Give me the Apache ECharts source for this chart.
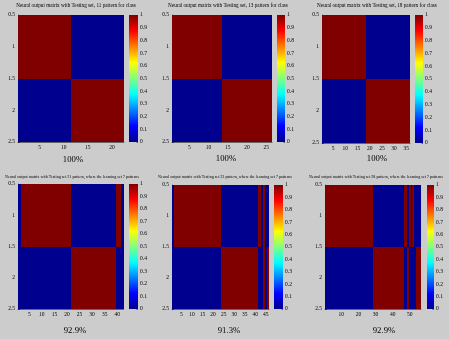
<!DOCTYPE html>
<html>
<head>
<meta charset="utf-8">
<script src="https://cdn.jsdelivr.net/npm/echarts@6/dist/echarts.min.js"></script>
<style>
html, body { margin: 0; padding: 0; background: #cccccc; }
#chart { width: 449px; height: 339px; }
</style>
</head>
<body>
<div id="chart"></div>
<script>
// Titres et scores de chaque panneau
const titles = [
    'Neural output matrix with Testing set, 11 pattern for class',
    'Neural output matrix with Testing set, 13 pattern for class',
    'Neural output matrix with Testing set, 18 pattern for class',
    'Neural output matrix with Testing set 21 pattern, where the learning set 7 patterns',
    'Neural output matrix with Testing set 23 pattern, where the learning set 7 patterns',
    'Neural output matrix with Testing set 28 pattern, where the learning set 7 patterns'
];
const scores = ['100%', '100%', '100%', '92.9%', '91.3%', '92.9%'];

// Graduations de l'axe x
const xTicks1 = [5, 10, 15, 20];
const xTicks2 = [5, 10, 15, 20, 25];
const xTicks3 = [5, 10, 15, 20, 25, 30, 35];
const xTicks4 = [5, 10, 15, 20, 25, 30, 35, 40];
const xTicks5 = [5, 10, 15, 20, 25, 30, 35, 40, 45];
const xTicks6 = [10, 20, 30, 40, 50];

// Sorties du réseau : ligne 1 (classe 1) et ligne 2 (classe 2)
const p1Row1 = [1,1,1,1,1,1,1,1,1,1,1, 0,0,0,0,0,0,0,0,0,0,0];
const p1Row2 = [0,0,0,0,0,0,0,0,0,0,0, 1,1,1,1,1,1,1,1,1,1,1];

const p2Row1 = [1,1,1,1,1,1,1,1,1,1,1,1,1, 0,0,0,0,0,0,0,0,0,0,0,0,0];
const p2Row2 = [0,0,0,0,0,0,0,0,0,0,0,0,0, 1,1,1,1,1,1,1,1,1,1,1,1,1];

const p3Row1 = [1,1,1,1,1,1,1,1,1,1,1,1,1,1,1,1,1,1, 0,0,0,0,0,0,0,0,0,0,0,0,0,0,0,0,0,0];
const p3Row2 = [0,0,0,0,0,0,0,0,0,0,0,0,0,0,0,0,0,0, 1,1,1,1,1,1,1,1,1,1,1,1,1,1,1,1,1,1];

const p4Row1 = [0,1,1,1,1,1,1,1,1,1,1,1,1,1,1,1,1,1,1,1,1, 0,0,0,0,0,0,0,0,0,0,0,0,0,0,0,0,0,0,1,1,0];
const p4Row2 = [0,0,0,0,0,0,0,0,0,0,0,0,0,0,0,0,0,0,0,0,0, 1,1,1,1,1,1,1,1,1,1,1,1,1,1,1,1,1,1,0,0,0];

const p5Row1 = [0,1,1,1,1,1,1,1,1,1,1,1,1,1,1,1,1,1,1,1,1,1,1, 0,0,0,0,0,0,0,0,0,0,0,0,0,0,0,0,0,0,1,0,1,0,0];
const p5Row2 = [0,0,0,0,0,0,0,0,0,0,0,0,0,0,0,0,0,0,0,0,0,0,0, 1,1,1,1,1,1,1,1,1,1,1,1,1,1,1,1,1,1,0,0,1,0,1];

const p6Row1 = [1,1,1,1,1,1,1,1,1,1,1,1,1,1,1,1,1,1,1,1,1,1,1,1,1,1,1,1, 0,0,0,0,0,0,0,0,0,0,0,0,0,0,0,0,0,0,1,1,0,1,0,1,0,0,0,0];
const p6Row2 = [0,0,0,0,0,0,0,0,0,0,0,0,0,0,0,0,0,0,0,0,0,0,0,0,0,0,0,0, 1,1,1,1,1,1,1,1,1,1,1,1,1,1,1,1,1,1,0,0,1,0,0,0,0,1,1,1];

const yTickLabels = [0.5, 1, 1.5, 2, 2.5];

const rows = [
    [p1Row1, p1Row2], [p2Row1, p2Row2], [p3Row1, p3Row2],
    [p4Row1, p4Row2], [p5Row1, p5Row2], [p6Row1, p6Row2]
];
const xTicks = [xTicks1, xTicks2, xTicks3, xTicks4, xTicks5, xTicks6];

// Palette "jet" (MATLAB)
const jet = ['#00008f', '#0000ff', '#0080ff', '#00ffff', '#80ff80', '#ffff00', '#ff8000', '#ff0000', '#800000'];

// Position des axes (zones de tracé) et des barres de couleur
const plotBoxes = [
    { left: 18, top: 15, width: 106, height: 127 },
    { left: 172, top: 15, width: 100, height: 127 },
    { left: 322, top: 15, width: 88, height: 128 },
    { left: 18, top: 184, width: 105.5, height: 125 },
    { left: 172, top: 185, width: 97, height: 124 },
    { left: 325, top: 185, width: 96, height: 124 }
];
const barBoxes = [
    { left: 129, top: 15, width: 9, height: 127 },
    { left: 277, top: 15, width: 8, height: 127 },
    { left: 415, top: 15, width: 8, height: 128 },
    { left: 129, top: 184, width: 9, height: 125 },
    { left: 274, top: 185, width: 9, height: 124 },
    { left: 427, top: 185, width: 7, height: 124 }
];
const titlePos = [[76, 6], [228, 6], [377, 6], [72, 177], [225, 177], [376, 177]];
const scorePos = [[73, 160], [226, 159], [377, 159], [75, 331], [229, 331], [384, 331]];

const serif = 'Liberation Serif';
const blackLine = { color: '#000', width: 0.5 };

// Une cellule par valeur, bords arrondis au pixel pour éviter les coutures
function renderCell(params, api) {
    const x = api.value(0);
    const y = api.value(1);
    const p0 = api.coord([x - 0.5, y - 0.5]);
    const p1 = api.coord([x + 0.5, y + 0.5]);
    const x0 = Math.round(Math.min(p0[0], p1[0]));
    const x1 = Math.round(Math.max(p0[0], p1[0]));
    const y0 = Math.round(Math.min(p0[1], p1[1]));
    const y1 = Math.round(Math.max(p0[1], p1[1]));
    return {
        type: 'rect',
        shape: { x: x0, y: y0, width: x1 - x0, height: y1 - y0 },
        style: { fill: api.visual('color') }
    };
}

const chart = echarts.init(document.getElementById('chart'), null, { renderer: 'canvas' });

const grid = [];
const xAxis = [];
const yAxis = [];
const series = [];
const graphic = [];

// Panneaux de la matrice
rows.forEach((pair, i) => {
    const n = pair[0].length;
    const data = [];
    pair.forEach((row, r) => {
        row.forEach((v, c) => data.push([c + 1, r + 1, v]));
    });
    grid.push(plotBoxes[i]);
    xAxis.push({
        type: 'value', gridIndex: i, min: 0.5, max: n + 0.5,
        axisLine: { show: true, onZero: false, lineStyle: blackLine },
        axisTick: { show: true, inside: true, length: 2, customValues: xTicks[i], lineStyle: blackLine },
        axisLabel: { customValues: xTicks[i], fontSize: 5.5, fontFamily: serif, color: '#000', margin: 3 },
        splitLine: { show: false }
    });
    yAxis.push({
        type: 'value', gridIndex: i, min: 0.5, max: 2.5, interval: 0.5, inverse: true,
        axisLine: { show: true, onZero: false, lineStyle: blackLine },
        axisTick: { show: true, inside: true, length: 2, lineStyle: blackLine },
        axisLabel: {
            fontSize: 5.5, fontFamily: serif, color: '#000', margin: 3,
            formatter: v => String(yTickLabels.find(t => Math.abs(t - v) < 1e-6) ?? v)
        },
        splitLine: { show: false }
    });
    series.push({
        type: 'custom', xAxisIndex: i, yAxisIndex: i,
        renderItem: renderCell, clip: true, silent: true,
        encode: { x: 0, y: 1 },
        data: data
    });
    graphic.push({
        type: 'text', x: titlePos[i][0], y: titlePos[i][1],
        style: {
            text: titles[i], align: 'center', verticalAlign: 'middle',
            fontSize: i < 3 ? 5.2 : 4.1, fontFamily: serif, fill: '#000'
        }
    });
    graphic.push({
        type: 'text', x: scorePos[i][0], y: scorePos[i][1],
        style: {
            text: scores[i], align: 'center', verticalAlign: 'middle',
            fontSize: 8.7, fontFamily: serif, fill: '#000'
        }
    });
});

// Barres de couleur
barBoxes.forEach((box, i) => {
    const g = 6 + i;
    grid.push(box);
    xAxis.push({ type: 'category', gridIndex: g, data: [''], show: false });
    yAxis.push({
        type: 'value', gridIndex: g, min: 0, max: 1, interval: 0.1, position: 'right',
        axisLine: { show: false },
        axisTick: { show: true, inside: true, length: 1.5, lineStyle: blackLine },
        axisLabel: { fontSize: 5.5, fontFamily: serif, color: '#000', margin: 2 },
        splitLine: { show: false }
    });
    series.push({
        type: 'bar', xAxisIndex: g, yAxisIndex: g, barWidth: '100%', silent: true,
        data: [1],
        itemStyle: {
            color: {
                type: 'linear', x: 0, y: 1, x2: 0, y2: 0,
                colorStops: jet.map((c, k) => ({ offset: k / (jet.length - 1), color: c }))
            }
        }
    });
});

const option = {
    backgroundColor: '#cccccc',
    animation: false,
    grid: grid,
    xAxis: xAxis,
    yAxis: yAxis,
    visualMap: {
        show: false, type: 'continuous', min: 0, max: 1, dimension: 2,
        seriesIndex: [0, 1, 2, 3, 4, 5],
        inRange: { color: jet }
    },
    graphic: graphic,
    series: series
};

chart.setOption(option);
</script>
</body>
</html>
